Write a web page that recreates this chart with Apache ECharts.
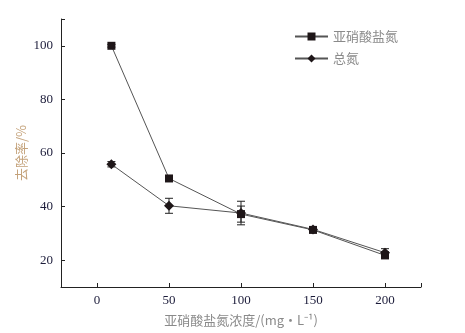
<!DOCTYPE html>
<html>
<head>
<meta charset="utf-8">
<script src="https://cdn.jsdelivr.net/npm/echarts@6/dist/echarts.min.js"></script>
<style>
  html, body { margin: 0; padding: 0; background: #fff; }
  #chart { width: 465px; height: 333px; }
</style>
</head>
<body>
<div id="chart"></div>
<script>
// 数据
var concentrations = [10, 50, 100, 150, 200];
var nitrite = [100, 50.5, 37.2, 31.3, 21.8];
var nitriteErr = [0.5, 1.0, 3.0, 0.5, 1.2];
var totalN = [55.8, 40.3, 37.6, 31.5, 22.8];
var totalNErr = [1.0, 2.8, 4.4, 0.6, 1.5];
var xTicks = [0, 50, 100, 150, 200];
var yTicks = [20, 40, 60, 80, 100];

var numFont = "'Liberation Serif', 'Times New Roman', serif";
var cjkFont = "'Noto Sans CJK SC', sans-serif";

function pairs(ys) {
  return concentrations.map(function (x, i) { return [x, ys[i]]; });
}
function errData(ys, errs) {
  return concentrations.map(function (x, i) { return [x, ys[i] - errs[i], ys[i] + errs[i]]; });
}

// 误差棒
function renderErr(params, api) {
  var x = api.value(0);
  var lo = api.coord([x, api.value(1)]);
  var hi = api.coord([x, api.value(2)]);
  var w = 4;
  var style = { stroke: '#222', lineWidth: 1 };
  return {
    type: 'group',
    children: [
      { type: 'line', shape: { x1: lo[0], y1: lo[1], x2: hi[0], y2: hi[1] }, style: style },
      { type: 'line', shape: { x1: lo[0] - w, y1: lo[1], x2: lo[0] + w, y2: lo[1] }, style: style },
      { type: 'line', shape: { x1: hi[0] - w, y1: hi[1], x2: hi[0] + w, y2: hi[1] }, style: style }
    ]
  };
}

var chart = echarts.init(document.getElementById('chart'));
var option = {
  animation: false,
  backgroundColor: '#fff',
  grid: { left: 61, right: 44, top: 19, bottom: 46 },
  legend: {
    orient: 'vertical',
    left: 289,
    top: 25,
    itemWidth: 33,
    itemHeight: 10,
    itemGap: 9,
    textStyle: { fontFamily: cjkFont, fontSize: 13, color: '#8a8a8a' },
    data: ['亚硝酸盐氮', '总氮']
  },
  xAxis: {
    type: 'value',
    min: -25,
    max: 225,
    name: '亚硝酸盐氮浓度/(mg·L⁻¹)',
    nameLocation: 'middle',
    nameGap: 27,
    nameMoveOverlap: false,
    nameTextStyle: { fontFamily: cjkFont, fontSize: 13, color: '#8a8a8a' },
    axisLine: { onZero: false, lineStyle: { color: '#222', width: 1 } },
    axisTick: { inside: true, length: 4, customValues: xTicks.concat([225]), lineStyle: { color: '#222' } },
    axisLabel: { customValues: xTicks, margin: 7, fontFamily: numFont, fontSize: 13, color: '#1c1c3a' },
    splitLine: { show: false }
  },
  yAxis: {
    type: 'value',
    min: 10,
    max: 110,
    name: '去除率/%',
    nameLocation: 'middle',
    nameGap: 33,
    nameMoveOverlap: false,
    nameTextStyle: { fontFamily: cjkFont, fontSize: 13, color: '#c4a27a' },
    axisLine: { show: true, onZero: false, lineStyle: { color: '#222', width: 1 } },
    axisTick: { show: true, inside: true, length: 4, customValues: yTicks.concat([110]), lineStyle: { color: '#222' } },
    axisLabel: { customValues: yTicks, margin: 8, fontFamily: numFont, fontSize: 13, color: '#1c1c3a' },
    splitLine: { show: false }
  },
  series: [
    {
      name: '亚硝酸盐氮',
      type: 'line',
      data: pairs(nitrite),
      symbol: 'rect',
      symbolSize: 8,
      itemStyle: { color: '#1e1618' },
      lineStyle: { color: '#555', width: 1 },
      z: 3
    },
    {
      name: '总氮',
      type: 'line',
      data: pairs(totalN),
      symbol: 'diamond',
      symbolSize: 10,
      itemStyle: { color: '#1e1618' },
      lineStyle: { color: '#555', width: 1 },
      z: 3
    },
    {
      type: 'custom',
      renderItem: renderErr,
      data: errData(nitrite, nitriteErr),
      encode: { x: 0, y: [1, 2] },
      z: 2,
      silent: true
    },
    {
      type: 'custom',
      renderItem: renderErr,
      data: errData(totalN, totalNErr),
      encode: { x: 0, y: [1, 2] },
      z: 2,
      silent: true
    }
  ]
};
chart.setOption(option);
</script>
</body>
</html>
